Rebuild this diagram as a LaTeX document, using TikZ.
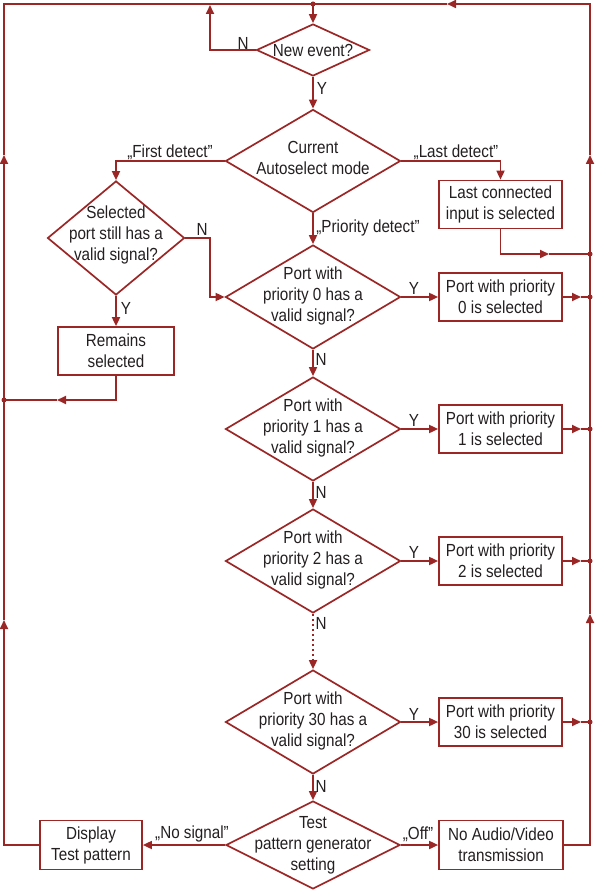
\documentclass[tikz,border=0pt]{standalone}
\usepackage{fontspec}
\setmainfont{Liberation Sans}[FakeStretch=0.87]
\usetikzlibrary{shapes.geometric,arrows.meta}
\definecolor{lc}{RGB}{155,38,38}
\definecolor{tc}{RGB}{35,31,32}
\begin{document}
\begin{tikzpicture}[x=1pt,y=-1pt,
  every node/.style={text=tc, font=\fontsize{17.5}{21}\selectfont},
  dia/.style={draw=lc, line width=1.7pt, diamond, inner sep=0pt},
  box/.style={draw=lc, line width=1.7pt, rectangle, minimum width=123pt, minimum height=48pt, align=center, inner sep=0pt},
  txt/.style={align=center, inner sep=0pt},
  lbl/.style={inner sep=0pt},
  ln/.style={draw=lc, line width=1.7pt},
  arr/.style={ln, -{Triangle[length=9pt,width=8pt]}},
  dot/.style={circle, fill=lc, inner sep=0pt, minimum size=5pt}
]
\useasboundingbox (0,0) rectangle (595,890);

% diamonds
\node[dia, minimum width=113pt, minimum height=52pt] (ne) at (313,50) {};
\node[txt] (net) at (313,50) {New event?};
\node[dia, minimum width=175pt, minimum height=103pt] (cur) at (313,161) {};
\node[txt] (curt) at (313,158) {Current\\Autoselect mode};
\node[dia, minimum width=137pt, minimum height=114pt] (sel) at (116,238) {};
\node[txt] (selt) at (116,235) {Selected\\port still has a\\valid signal?};
\node[dia, minimum width=175pt, minimum height=104pt] (p0) at (313,297) {};
\node[txt] (p0t) at (313,296) {Port with\\priority 0 has a\\valid signal?};
\node[dia, minimum width=175pt, minimum height=104pt] (p1) at (313,429) {};
\node[txt] (p1t) at (313,428) {Port with\\priority 1 has a\\valid signal?};
\node[dia, minimum width=175pt, minimum height=104pt] (p2) at (313,561) {};
\node[txt] (p2t) at (313,560) {Port with\\priority 2 has a\\valid signal?};
\node[dia, minimum width=175pt, minimum height=104pt] (p30) at (313,722) {};
\node[txt] (p30t) at (313,721) {Port with\\priority 30 has a\\valid signal?};
\node[dia, minimum width=174pt, minimum height=88pt] (tp) at (313,845) {};
\node[txt] (tpt) at (313,845) {Test\\pattern generator\\setting};

% boxes
\node[box] (last) at (500.5,204.5) {Last connected\\input is selected};
\node[box] (b0) at (500.5,297) {Port with priority\\0 is selected};
\node[box] (b1) at (500.5,429) {Port with priority\\1 is selected};
\node[box] (b2) at (500.5,561) {Port with priority\\2 is selected};
\node[box] (b30) at (500.5,722) {Port with priority\\30 is selected};
\node[box, minimum width=116pt] (rem) at (116,351) {Remains\\selected};
\node[box, minimum width=102pt, minimum height=49pt] (disp) at (91,845) {Display\\Test pattern};
\node[box, minimum width=124pt, minimum height=49pt] (noav) at (501,845) {No Audio/Video\\transmission};

% coordinates
\coordinate (T) at (313,4);
\coordinate (nT) at (210,5);
\coordinate (rA) at (590,614);
\coordinate (rB) at (590,155);
\coordinate (tA) at (447,4);
\coordinate (lA) at (4,620);
\coordinate (lB) at (4,155);
\coordinate (sN) at (210,297);
\coordinate (lcA) at (549,254);
\coordinate (lcJ) at (590,254);
\coordinate (rmA) at (57,400);
\coordinate (rmJ) at (4,400);
\coordinate (j0A) at (581,297);
\coordinate (j0) at (590,297);
\coordinate (j1A) at (581,429);
\coordinate (j1) at (590,429);
\coordinate (j2A) at (581,561);
\coordinate (j2) at (590,561);
\coordinate (j30A) at (581,722);
\coordinate (j30) at (590,722);
\coordinate (dd) at (313,661);

% outer loop
\draw[arr] (noav.east) -| (rA);
\draw[arr] (rA) -- (rB);
\draw[arr] (rB) |- (tA);
\draw[ln] (tA) -- (T);
\draw[arr] (disp.west) -| (lA);
\draw[arr] (lA) -- (lB);
\draw[ln] (lB) |- (T);
\draw[arr] (T) -- (ne.north);
\draw[arr] (ne.west) -| (nT);

% main flow
\draw[arr] (ne.south) -- (cur.north);
\draw[arr] (cur.west) -| (sel.north);
\draw[arr] (cur.east) -| (last.north);
\draw[arr] (cur.south) -- (p0.north);
\draw[arr] (sel.east) -| (sN) -- (p0.west);
\draw[arr] (sel.south) -- (rem.north);
\draw[arr] (rem.south) |- (rmA);
\draw[ln] (rmA) -- (rmJ);
\draw[arr] (last.south) |- (lcA);
\draw[ln] (lcA) -- (lcJ);
\draw[arr] (p0.east) -- (b0.west);
\draw[arr] (p1.east) -- (b1.west);
\draw[arr] (p2.east) -- (b2.west);
\draw[arr] (p30.east) -- (b30.west);
\draw[arr] (b0.east) -- (j0A); \draw[ln] (j0A) -- (j0);
\draw[arr] (b1.east) -- (j1A); \draw[ln] (j1A) -- (j1);
\draw[arr] (b2.east) -- (j2A); \draw[ln] (j2A) -- (j2);
\draw[arr] (b30.east) -- (j30A); \draw[ln] (j30A) -- (j30);
\draw[arr] (p0.south) -- (p1.north);
\draw[arr] (p1.south) -- (p2.north);
\draw[ln, dash pattern=on 2.5pt off 2.5pt] (p2.south) -- (dd);
\draw[arr] (dd) -- (p30.north);
\draw[arr] (p30.south) -- (tp.north);
\draw[arr] (tp.west) -- (disp.east);
\draw[arr] (tp.east) -- (noav.west);

% dots
\foreach \p in {T,rmJ,lcJ,j0,j1,j2,j30} \node[dot] at (\p) {};

% labels
\node[lbl] (l1) at (243,43) {N};
\node[lbl] (l2) at (322,88) {Y};
\node[lbl] (l3) at (170,152) {„First detect”};
\node[lbl] (l4) at (456,152) {„Last detect”};
\node[lbl] (l5) at (368,228) {„Priority detect”};
\node[lbl] (l6) at (202,229) {N};
\node[lbl] (l7) at (126,308) {Y};
\node[lbl] (l8) at (414,288) {Y};
\node[lbl] (l9) at (414,420) {Y};
\node[lbl] (l10) at (414,552) {Y};
\node[lbl] (l11) at (414,714) {Y};
\node[lbl] (l12) at (321,359) {N};
\node[lbl] (l13) at (321,492) {N};
\node[lbl] (l14) at (321,623) {N};
\node[lbl] (l15) at (321,786) {N};
\node[lbl] (l16) at (192,834) {„No signal”};
\node[lbl] (l17) at (418,834) {„Off”};
\end{tikzpicture}
\end{document}
